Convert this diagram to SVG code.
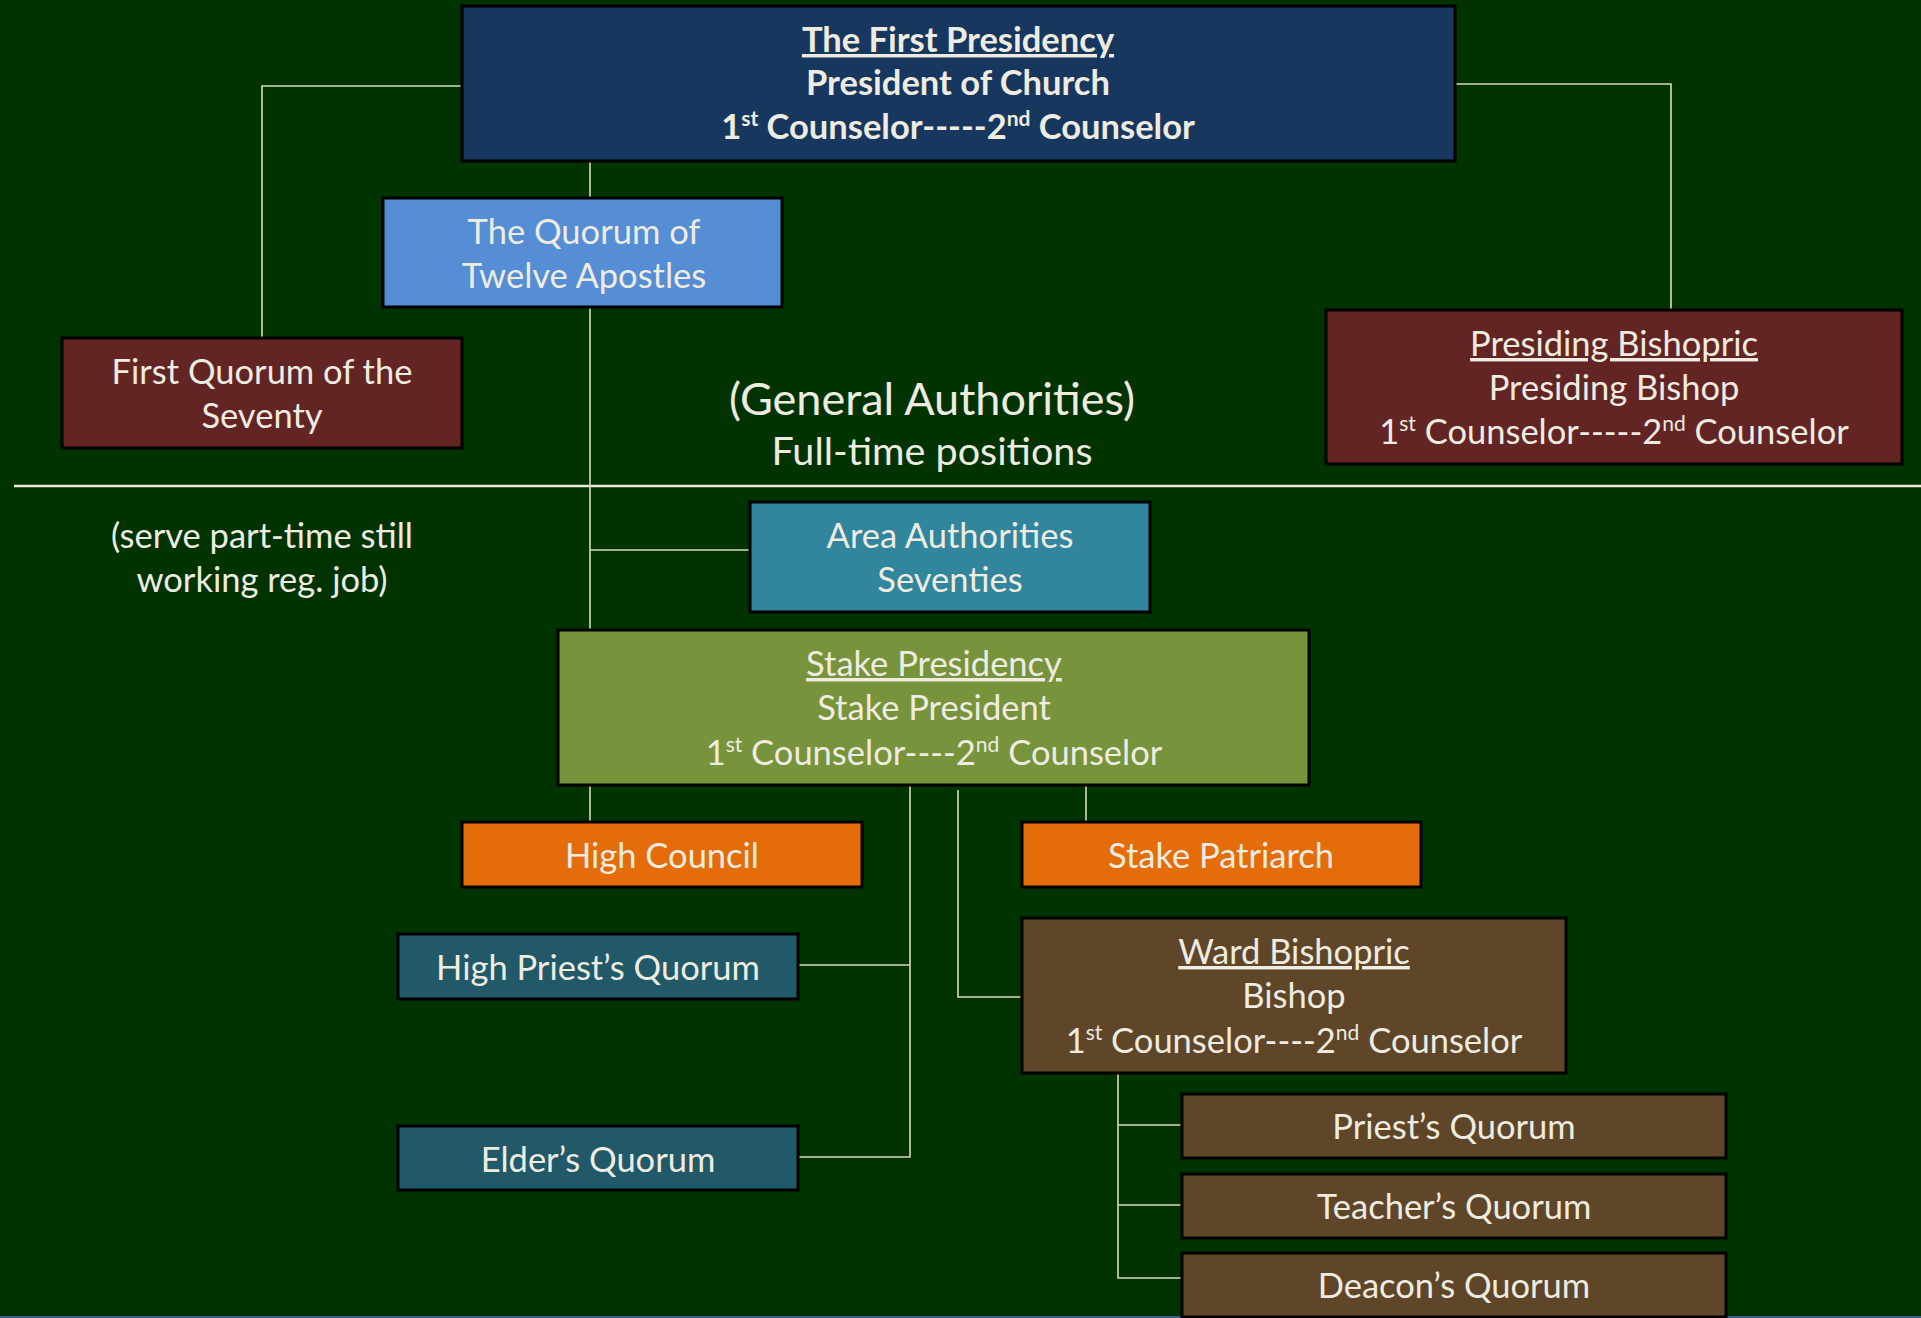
<svg xmlns="http://www.w3.org/2000/svg" width="1921" height="1318" viewBox="0 0 1921 1318">
<style>
.bg{fill:#003300}
.box{stroke:#000;stroke-width:3}
.t{font-family:Lato,"Open Sans","Liberation Sans",sans-serif;font-size:34.5px;fill:#EEECE1;text-anchor:middle}
.b{font-weight:bold}
.u{text-decoration:underline}
.sup{font-size:21px}
.c{fill:none;stroke:#D6DAC6;stroke-width:1.6}
</style>
<rect class="bg" x="0" y="0" width="1921" height="1318"/>
<rect x="0" y="1316" width="1921" height="2" fill="#36608a"/>
<line x1="14" y1="486" x2="1921" y2="486" stroke="#EEECE1" stroke-width="2.5"/>

<g id="connectors">
<polyline class="c" points="462,86 262,86 262,338"/>
<polyline class="c" points="1455,84 1671,84 1671,310"/>
<polyline class="c" points="590,161 590,198"/>
<polyline class="c" points="590,307 590,630"/>
<polyline class="c" points="590,550 750,550"/>
<polyline class="c" points="590,785 590,822"/>
<polyline class="c" points="910,785 910,1157 798,1157"/>
<polyline class="c" points="798,965 910,965"/>
<polyline class="c" points="958,790 958,997 1022,997"/>
<polyline class="c" points="1086,785 1086,822"/>
<polyline class="c" points="1118,1073 1118,1278 1182,1278"/>
<polyline class="c" points="1118,1125 1182,1125"/>
<polyline class="c" points="1118,1205 1182,1205"/>
</g>

<g id="first-presidency">
<rect class="box" x="462" y="6" width="993" height="155" fill="#17375E"/>
<text class="t b u" x="958" y="52">The First Presidency</text>
<text class="t b" x="958" y="95">President of Church</text>
<text class="t b" x="958" y="139">1<tspan class="sup" dy="-13">st</tspan><tspan dy="13"> Counselor-----2</tspan><tspan class="sup" dy="-13">nd</tspan><tspan dy="13"> Counselor</tspan></text>
</g>

<g id="twelve-apostles">
<rect class="box" x="383" y="198" width="399" height="109" fill="#558ED5"/>
<text class="t" x="584" y="244">The Quorum of</text>
<text class="t" x="584" y="288">Twelve Apostles</text>
</g>

<g id="first-quorum-seventy">
<rect class="box" x="62" y="338" width="400" height="110" fill="#632523"/>
<text class="t" x="262" y="384">First Quorum of the</text>
<text class="t" x="262" y="428">Seventy</text>
</g>

<g id="presiding-bishopric">
<rect class="box" x="1326" y="310" width="576" height="154" fill="#632523"/>
<text class="t u" x="1614" y="356">Presiding Bishopric</text>
<text class="t" x="1614" y="400">Presiding Bishop</text>
<text class="t" x="1614" y="444">1<tspan class="sup" dy="-13">st</tspan><tspan dy="13"> Counselor-----2</tspan><tspan class="sup" dy="-13">nd</tspan><tspan dy="13"> Counselor</tspan></text>
</g>

<g id="general-authorities-label">
<text class="t" x="932" y="415" style="font-size:45px">(General Authorities)</text>
<text class="t" x="932" y="465" style="font-size:39.5px">Full-time positions</text>
</g>

<g id="part-time-label">
<text class="t" x="262" y="548">(serve part-time still</text>
<text class="t" x="262" y="592">working reg. job)</text>
</g>

<g id="area-authorities">
<rect class="box" x="750" y="502" width="400" height="110" fill="#31859C"/>
<text class="t" x="950" y="548">Area Authorities</text>
<text class="t" x="950" y="592">Seventies</text>
</g>

<g id="stake-presidency">
<rect class="box" x="558" y="630" width="751" height="155" fill="#77933C"/>
<text class="t u" x="934" y="676">Stake Presidency</text>
<text class="t" x="934" y="720">Stake President</text>
<text class="t" x="934" y="765">1<tspan class="sup" dy="-13">st</tspan><tspan dy="13"> Counselor----2</tspan><tspan class="sup" dy="-13">nd</tspan><tspan dy="13"> Counselor</tspan></text>
</g>

<g id="high-council">
<rect class="box" x="462" y="822" width="400" height="65" fill="#E46C0A"/>
<text class="t" x="662" y="868">High Council</text>
</g>

<g id="stake-patriarch">
<rect class="box" x="1022" y="822" width="399" height="65" fill="#E46C0A"/>
<text class="t" x="1221" y="868">Stake Patriarch</text>
</g>

<g id="high-priests-quorum">
<rect class="box" x="398" y="934" width="400" height="65" fill="#215968"/>
<text class="t" x="598" y="980">High Priest’s Quorum</text>
</g>

<g id="elders-quorum">
<rect class="box" x="398" y="1126" width="400" height="64" fill="#215968"/>
<text class="t" x="598" y="1172">Elder’s Quorum</text>
</g>

<g id="ward-bishopric">
<rect class="box" x="1022" y="918" width="544" height="155" fill="#5F4629"/>
<text class="t u" x="1294" y="964">Ward Bishopric</text>
<text class="t" x="1294" y="1008">Bishop</text>
<text class="t" x="1294" y="1053">1<tspan class="sup" dy="-13">st</tspan><tspan dy="13"> Counselor----2</tspan><tspan class="sup" dy="-13">nd</tspan><tspan dy="13"> Counselor</tspan></text>
</g>

<g id="priests-quorum">
<rect class="box" x="1182" y="1094" width="544" height="64" fill="#5F4629"/>
<text class="t" x="1454" y="1139">Priest’s Quorum</text>
</g>

<g id="teachers-quorum">
<rect class="box" x="1182" y="1174" width="544" height="64" fill="#5F4629"/>
<text class="t" x="1454" y="1219">Teacher’s Quorum</text>
</g>

<g id="deacons-quorum">
<rect class="box" x="1182" y="1253" width="544" height="64" fill="#5F4629"/>
<text class="t" x="1454" y="1298">Deacon’s Quorum</text>
</g>
</svg>
